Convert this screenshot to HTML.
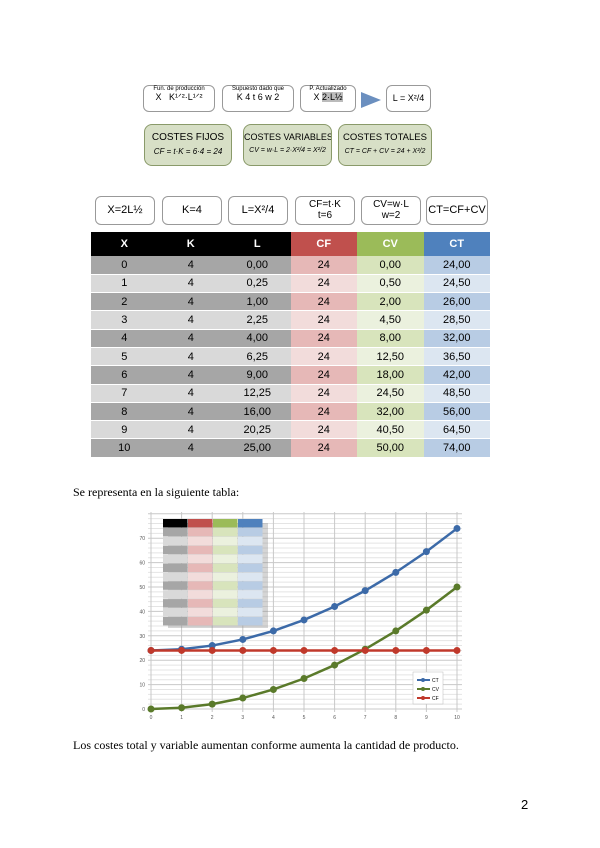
<html><head><style>
body{margin:0;width:600px;height:848px;background:#fff;position:relative;font-family:"Liberation Sans",sans-serif;overflow:hidden}
.b{position:absolute;border:1px solid #999;border-radius:6px;background:#fff;font-size:11px;text-align:center;box-sizing:border-box}
.g{position:absolute;border:1px solid #8a9a6a;border-radius:8px;background:#d7dfc6;font-size:10px;text-align:center;box-sizing:border-box;white-space:nowrap;overflow:hidden}
table{position:absolute;left:91px;top:232px;border-collapse:collapse;width:399px}
td{width:66.5px;height:18.3px;text-align:center;font-size:11px;padding:0;border-bottom:1px solid #fff}
th{height:24px;color:#fff;font-size:11px;font-weight:bold}
.s{font-family:"Liberation Serif",serif;font-size:12px;position:absolute}
</style></head><body>
<div class="b" style="left:143px;top:85px;width:72px;height:27px;font-size:6px">Fun. de producción<br><span style="font-size:9px">X &nbsp; K¹ᐟ²·L¹ᐟ²</span></div>
<div class="b" style="left:222px;top:85px;width:72px;height:27px;font-size:6px">Supuesto dado que<br><span style="font-size:9px">K 4 t 6 w 2</span></div>
<div class="b" style="left:300px;top:85px;width:56px;height:27px;font-size:6px">P. Actualizado<br><span style="font-size:9px">X <span style="background:#bbb">2·L½</span></span></div>
<div style="position:absolute;left:361px;top:92px;width:0;height:0;border-left:20px solid #6b8fbf;border-top:8px solid transparent;border-bottom:8px solid transparent"></div>
<div class="b" style="left:386px;top:85px;width:45px;height:27px;font-size:9px;line-height:25px">L = X²/4</div>
<div class="g" style="left:144px;top:124px;width:88px;height:42px;padding-top:7px">COSTES FIJOS<br><i style="font-size:8px;line-height:18px">CF = t·K = 6·4 = 24</i></div>
<div class="g" style="left:243px;top:124px;width:89px;height:42px;padding-top:7px;font-size:9px">COSTES VARIABLES<br><i style="font-size:7px;line-height:18px">CV = w·L = 2·X²/4 = X²/2</i></div>
<div class="g" style="left:338px;top:124px;width:94px;height:42px;padding-top:7px;font-size:9.5px">COSTES TOTALES<br><i style="font-size:7px;line-height:18px">CT = CF + CV = 24 + X²/2</i></div>
<div class="b" style="left:95px;top:196px;width:60px;height:29px;line-height:27px">X=2L½</div>
<div class="b" style="left:162px;top:196px;width:60px;height:29px;line-height:27px">K=4</div>
<div class="b" style="left:228px;top:196px;width:60px;height:29px;line-height:27px">L=X²/4</div>
<div class="b" style="left:295px;top:196px;width:60px;height:29px;font-size:10px;padding-top:2px">CF=t·K<br>t=6</div>
<div class="b" style="left:361px;top:196px;width:60px;height:29px;font-size:10px;padding-top:2px">CV=w·L<br>w=2</div>
<div class="b" style="left:426px;top:196px;width:62px;height:29px;line-height:27px">CT=CF+CV</div>
<table><tr><th style="background:#000">X</th><th style="background:#000">K</th><th style="background:#000">L</th><th style="background:#c0504d">CF</th><th style="background:#9bbb59">CV</th><th style="background:#4f81bd">CT</th></tr>
<tbody id="tb"></tbody></table>
<div class="s" style="left:73px;top:485px">Se representa en la siguiente tabla:</div>
<svg style="position:absolute;left:0;top:0" width="600" height="848" id="c"></svg>
<div class="s" style="left:73px;top:738px">Los costes total y variable aumentan conforme aumenta la cantidad de producto.</div>
<div style="position:absolute;left:521px;top:797px;font-size:13px">2</div>
<script>
var tb=document.getElementById('tb'),h='';
for(var x=0;x<=10;x++){var d=x%2==0,L=(x*x/4).toFixed(2).replace('.',','),cv=(x*x/2).toFixed(2).replace('.',','),ct=(24+x*x/2).toFixed(2).replace('.',',');
h+='<tr><td style="background:'+(d?'#a6a6a6':'#d9d9d9')+'">'+x+'</td><td style="background:'+(d?'#a6a6a6':'#d9d9d9')+'">4</td><td style="background:'+(d?'#a6a6a6':'#d9d9d9')+'">'+L+'</td><td style="background:'+(d?'#e6b8b7':'#f2dcdb')+'">24</td><td style="background:'+(d?'#d8e4bc':'#ebf1de')+'">'+cv+'</td><td style="background:'+(d?'#b8cce4':'#dce6f1')+'">'+ct+'</td></tr>';}
tb.innerHTML=h;
var s='';function X(x){return 151+x*30.6}function Y(v){return 709-v*2.44}
for(var v=0;v<=80;v+=2)s+='<line x1="148" x2="462" y1="'+Y(v)+'" y2="'+Y(v)+'" stroke="'+(v%10?'#e4e4e4':'#c8c8c8')+'"/>';
for(var x=0;x<=10;x++){s+='<line y1="512" y2="712" x1="'+X(x)+'" x2="'+X(x)+'" stroke="#c8c8c8"/><text x="'+X(x)+'" y="719" font-size="5" text-anchor="middle" fill="#555">'+x+'</text>';}
for(var v=0;v<=70;v+=10)s+='<text x="145" y="'+(Y(v)+2)+'" font-size="5" text-anchor="end" fill="#555">'+v+'</text>';
function ser(f,c){var p='',m='';for(var x=0;x<=10;x++){p+=X(x)+','+Y(f(x))+' ';m+='<circle cx="'+X(x)+'" cy="'+Y(f(x))+'" r="3.5" fill="'+c+'"/>';}return '<polyline points="'+p+'" fill="none" stroke="'+c+'" stroke-width="2.5"/>'+m;}
s+=ser(function(x){return x*x/2},'#5a7a2a')+ser(function(x){return 24+x*x/2},'#3c6aa8')+ser(function(){return 24},'#c0392b');
s+='<rect x="413" y="672" width="30" height="32" fill="#fff" stroke="#bbb" stroke-width="0.5"/>';
[['CT','#3c6aa8',680],['CV','#5a7a2a',689],['CF','#c0392b',698]].forEach(function(a){s+='<line x1="417" x2="430" y1="'+a[2]+'" y2="'+a[2]+'" stroke="'+a[1]+'" stroke-width="2"/><circle cx="423" cy="'+a[2]+'" r="2" fill="'+a[1]+'"/><text x="432" y="'+(a[2]+2)+'" font-size="5">'+a[0]+'</text>';});
s+='<rect x="165" y="520" width="100" height="105" fill="#888" opacity="0.35" transform="translate(3,3)"/>';
var cols=[['#000','#c0504d','#9bbb59','#4f81bd'],['#a6a6a6','#e6b8b7','#d8e4bc','#b8cce4'],['#d9d9d9','#f2dcdb','#ebf1de','#dce6f1']];
for(var r=0;r<12;r++)for(var c=0;c<4;c++){var col=r==0?cols[0][c]:cols[r%2?1:2][c];s+='<rect x="'+(163+c*25)+'" y="'+(519+r*8.9)+'" width="24.5" height="8.5" fill="'+col+'"/>';}
document.getElementById('c').innerHTML=s;
</script>
</body></html>
